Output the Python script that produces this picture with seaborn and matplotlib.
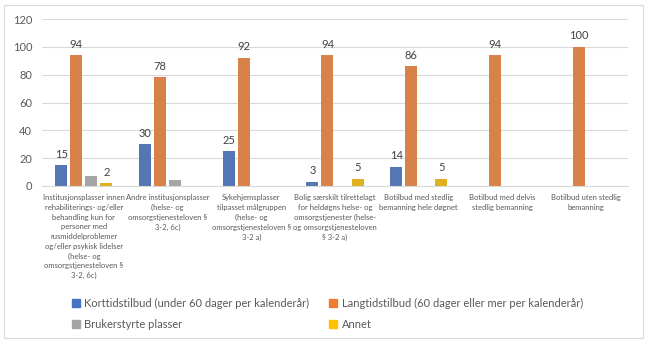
import matplotlib
matplotlib.use("Agg")
import matplotlib.pyplot as plt
from matplotlib.patches import Rectangle
import seaborn as sns
import pandas as pd

categories = [
    "Institusjonsplasser innen\nrehabiliterings- og/eller\nbehandling kun for\npersoner med\nrusmiddelproblemer\nog/eller psykisk lidelser\n(helse- og\nomsorgstjenesteloven §\n3-2, 6c)",
    "Andre institusjonsplasser\n(helse- og\nomsorgstjenesteloven §\n3-2, 6c)",
    "Sykehjemsplasser\ntilpasset målgruppen\n(helse- og\nomsorgstjenesteloven §\n3-2 a)",
    "Bolig særskilt tilrettelagt\nfor heldøgns helse- og\nomsorgstjenester (helse-\nog omsorgstjenesteloven\n§ 3-2 a)",
    "Botilbud med stedlig\nbemanning hele døgnet",
    "Botilbud med delvis\nstedlig bemanning",
    "Botilbud uten stedlig\nbemanning",
]
series_names = [
    "Korttidstilbud (under 60 dager per kalenderår)",
    "Langtidstilbud (60 dager eller mer per kalenderår)",
    "Brukerstyrte plasser",
    "Annet",
]
korttid = [15, 30, 25, 3, 14, 0, 0]
langtid = [94, 78, 92, 94, 86, 94, 100]
brukerstyrte = [7, 4, 0, 0, 0, 0, 0]
annet = [2, 0, 0, 5, 5, 0, 0]
labelled = [True, True, False, True]  # which series carry value labels

colors = ["#4472C4", "#ED7D31", "#A5A5A5", "#FFC000"]
yticks = [0, 20, 40, 60, 80, 100, 120]

rows = []
for name, vals in zip(series_names, [korttid, langtid, brukerstyrte, annet]):
    for cat, v in zip(categories, vals):
        rows.append({"kategori": cat, "serie": name, "verdi": v})
df = pd.DataFrame(rows)

sns.set_style("white")
plt.rcParams["font.family"] = ["Lato", "DejaVu Sans"]

fig = plt.figure(figsize=(6.48, 3.42), dpi=100)
ax = fig.add_axes([42 / 648, 1 - 186 / 342, (628 - 42) / 648, (186 - 19) / 342])

sns.barplot(data=df, x="kategori", y="verdi", hue="serie", order=categories,
            hue_order=series_names, palette=colors, width=0.72, gap=0.2,
            linewidth=0, errorbar=None, legend=False, ax=ax)

for cont, vals, lab in zip(ax.containers, [korttid, langtid, brukerstyrte, annet], labelled):
    texts = [str(v) if (lab and v > 0) else "" for v in vals]
    ax.bar_label(cont, labels=texts, padding=4, fontsize=8, color="#404040")

ax.set_ylim(0, 120)
ax.set_yticks(yticks)
ax.set_xlim(-0.5, len(categories) - 0.5)
ax.yaxis.grid(True, color="#D9D9D9", linewidth=0.8)
ax.set_axisbelow(True)
for s in ["top", "right", "left"]:
    ax.spines[s].set_visible(False)
ax.spines["bottom"].set_color("#D9D9D9")
ax.spines["bottom"].set_linewidth(0.8)
ax.set_xlabel("")
ax.set_ylabel("")
ax.tick_params(axis="y", length=0, pad=7, labelsize=8, labelcolor="#595959")
ax.tick_params(axis="x", length=0, pad=6, labelsize=5.5, labelcolor="#595959")
for t in ax.get_xticklabels():
    t.set_linespacing(1.45)
    t.set_verticalalignment("top")

# two columns, filled column by column: row 1 = first two series, row 2 = last two
order = [0, 2, 1, 3]
handles = [Rectangle((0, 0), 1, 1, color=colors[i]) for i in order]
labels = [series_names[i] for i in order]
fig.legend(handles, labels, loc="upper left", bbox_to_anchor=(62 / 648, 1 - 288 / 342),
           ncol=2, frameon=False, fontsize=8, labelcolor="#595959",
           handlelength=0.7, handleheight=0.7, handletextpad=0.4,
           columnspacing=1.8, labelspacing=0.9)

fig.patches.append(Rectangle((4 / 648, 4 / 342), 639 / 648, 333 / 342, transform=fig.transFigure,
                             fill=False, edgecolor="#D9D9D9", linewidth=0.8))

fig.savefig("out.png", dpi=100)
